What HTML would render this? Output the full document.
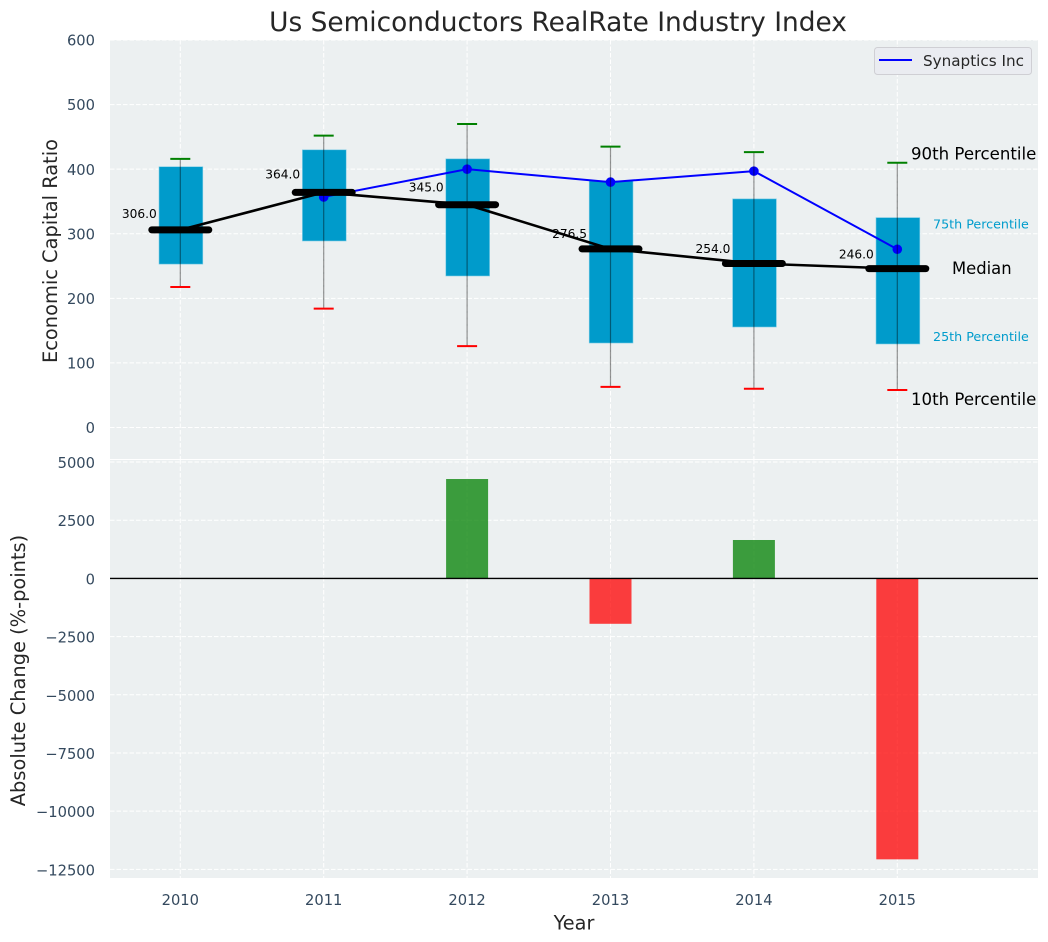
<!DOCTYPE html>
<html lang="en">
<head>
<meta charset="utf-8">
<title>Us Semiconductors RealRate Industry Index</title>
<style>
html,body{margin:0;padding:0;background:#fff;width:1048px;height:942px;overflow:hidden}
svg{display:block;font-family:"DejaVu Sans","Liberation Sans",sans-serif}
</style>
</head>
<body>
<svg id="chart" xmlns="http://www.w3.org/2000/svg" width="1048" height="942" viewBox="0 0 1048 942">
  <rect x="110" y="40" width="928" height="419" fill="#ecf0f1"/>
  <rect x="110" y="460" width="928" height="418" fill="#ecf0f1"/>
  <g id="grid"></g>
  <g id="marks"></g>
  <g id="ticks"></g>
  <text x="558" y="31" text-anchor="middle" font-size="26.4" fill="#262626">Us Semiconductors RealRate Industry Index</text>
  <text x="574" y="929.3" text-anchor="middle" font-size="19.3" fill="#262626">Year</text>
  <text transform="translate(57,251) rotate(-90)" text-anchor="middle" font-size="19.4" fill="#262626">Economic Capital Ratio</text>
  <text transform="translate(25,670.5) rotate(-90)" text-anchor="middle" font-size="19.4" fill="#262626">Absolute Change (%-points)</text>
  <text x="911" y="159.5" font-size="16.6" fill="#000">90th Percentile</text>
  <text x="933" y="228.3" font-size="12.7" fill="#009ccc">75th Percentile</text>
  <text x="952" y="274" font-size="16.4" fill="#000">Median</text>
  <text x="933" y="341" font-size="12.7" fill="#009ccc">25th Percentile</text>
  <text x="911" y="405" font-size="16.6" fill="#000">10th Percentile</text>
  <g>
    <rect x="874.5" y="47.5" width="157" height="27" rx="3" fill="#eaecf1" stroke="#cfcfd4" stroke-width="1"/>
    <line x1="879" y1="60" x2="912" y2="60" stroke="#0000ff" stroke-width="2"/>
    <text x="923" y="66" font-size="15.2" fill="#262626">Synaptics Inc</text>
  </g>
</svg>
<script>
const years = [2010, 2011, 2012, 2013, 2014, 2015];
const p90 = [416, 452, 470, 435, 426.5, 410];
const p75 = [403.8, 430, 416, 382, 354, 325];
const median = [306, 364, 345, 276.5, 254, 246];
const p25 = [253, 288.8, 234.6, 130.8, 155.6, 129.3];
const p10 = [217.5, 184, 126, 63, 60, 58];
const synaptics = [null, 357, 400, 380, 397, 276];
const absoluteChange = [0, 0, 4270, -1950, 1650, -12070];
const topTicks = [0, 100, 200, 300, 400, 500, 600];
const bottomTicks = [5000, 2500, 0, -2500, -5000, -7500, -10000, -12500];

const NS = 'http://www.w3.org/2000/svg';
const xAt = i => 180.3 + 143.4 * i;
const yTop = v => 427.5 - v * 0.6458;
const yBottom = v => 578.4 - v * 58.19 / 2500;
const fmt = v => String(v).replace('-', '\u2212');

function make(parent, tag, attrs, text) {
  const e = document.createElementNS(NS, tag);
  for (const k in attrs) e.setAttribute(k, attrs[k]);
  if (text !== undefined) e.textContent = text;
  parent.appendChild(e);
  return e;
}

const grid = document.getElementById('grid');
const marks = document.getElementById('marks');
const ticks = document.getElementById('ticks');
const dash = { stroke: '#ffffff', 'stroke-width': 1, 'stroke-dasharray': '4.5 2', fill: 'none' };
let el;

topTicks.forEach(t => {
  el = make(grid, 'line', { x1: 110, x2: 1038, y1: yTop(t), y2: yTop(t), ...dash });
  
  
  el = make(ticks, 'text', { x: 95, y: yTop(t) + 5.6, 'text-anchor': 'end', 'font-size': 14.7, fill: '#34495e' }, fmt(t));
  
  
});

bottomTicks.forEach(t => {
  el = make(grid, 'line', { x1: 110, x2: 1038, y1: yBottom(t), y2: yBottom(t), ...dash });
  
  
  el = make(ticks, 'text', { x: 95, y: yBottom(t) + 6, 'text-anchor': 'end', 'font-size': 14.7, fill: '#34495e' }, fmt(t));
  
  
});

years.forEach((yr, i) => {
  el = make(grid, 'line', { x1: xAt(i), x2: xAt(i), y1: 40, y2: 459, ...dash });
  
  
  el = make(grid, 'line', { x1: xAt(i), x2: xAt(i), y1: 460, y2: 878, ...dash });
  
  
  el = make(ticks, 'text', { x: xAt(i), y: 905, 'text-anchor': 'middle', 'font-size': 14.7, fill: '#34495e' }, String(yr));
  
  
});

years.forEach((yr, i) => {
  el = make(marks, 'rect', {
    x: xAt(i) - 21.3, width: 43.8, y: yTop(p75[i]), height: yTop(p25[i]) - yTop(p75[i]),
    fill: '#009bcb', stroke: '#7fcde5', 'stroke-width': 0.6
  });
  
  
});

const synPts = [];
synaptics.forEach((v, i) => { if (v !== null) synPts.push(xAt(i) + ',' + yTop(v)); });
el = make(marks, 'polyline', { points: synPts.join(' '), fill: 'none', stroke: '#0000ff', 'stroke-width': 2 });


synaptics.forEach((v, i) => {
  if (v === null) return;
  el = make(marks, 'circle', { cx: xAt(i), cy: yTop(v), r: 4.8, fill: '#0000ff' });
  
  
});

el = make(marks, 'polyline', {
  points: median.map((v, i) => xAt(i) + ',' + yTop(v)).join(' '),
  fill: 'none', stroke: '#000000', 'stroke-width': 2.6
});



years.forEach((yr, i) => {
  el = make(marks, 'line', {
    x1: xAt(i) - 28.5, x2: xAt(i) + 28.5, y1: yTop(median[i]), y2: yTop(median[i]),
    stroke: '#000000', 'stroke-width': 7, 'stroke-linecap': 'round'
  });
  
  

  el = make(marks, 'line', {
    x1: xAt(i), x2: xAt(i), y1: yTop(p90[i]), y2: yTop(p10[i]),
    stroke: '#000000', 'stroke-opacity': 0.42, 'stroke-width': 1.2
  });
  
  

  el = make(marks, 'line', {
    x1: xAt(i) - 10, x2: xAt(i) + 10, y1: yTop(p90[i]), y2: yTop(p90[i]),
    stroke: '#008000', 'stroke-width': 2
  });
  
  

  el = make(marks, 'line', {
    x1: xAt(i) - 10, x2: xAt(i) + 10, y1: yTop(p10[i]), y2: yTop(p10[i]),
    stroke: '#ff0000', 'stroke-width': 2
  });
  
  

  el = make(marks, 'text', {
    x: xAt(i) - 23.5, y: yTop(median[i] * 1.05) - 2.2, 'text-anchor': 'end', 'font-size': 12.2, fill: '#000000'
  }, median[i].toFixed(1));
  
  

  const c = absoluteChange[i];
  if (c !== 0) {
    el = make(marks, 'rect', {
      x: xAt(i) - 21, width: 42, y: Math.min(yBottom(c), yBottom(0)), height: Math.abs(yBottom(c) - yBottom(0)),
      fill: c > 0 ? '#008000' : '#ff0000', 'fill-opacity': 0.75
    });
    
    
  }
});

el = make(marks, 'line', { x1: 110, x2: 1038, y1: yBottom(0), y2: yBottom(0), stroke: '#000000', 'stroke-width': 1.4 });


</script>
</body>
</html>
